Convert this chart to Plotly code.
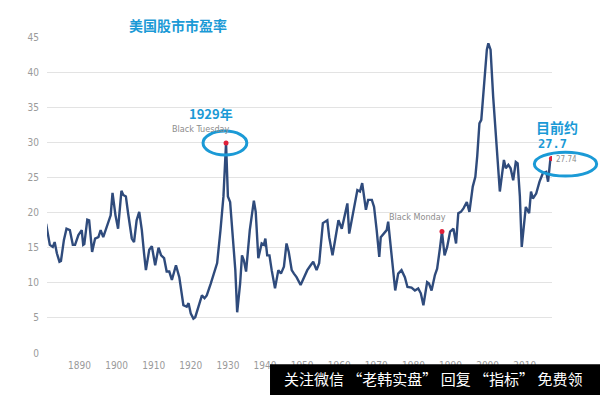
import plotly.graph_objects as go

# ---- data ----
years = [1881.0, 1881.3, 1882.0, 1882.8, 1883.3, 1883.9, 1884.6, 1885.0, 1885.8, 1886.5,
         1887.4, 1888.2, 1888.8, 1889.7, 1890.6, 1891.0, 1891.3, 1892.1, 1892.6, 1893.4,
         1894.2, 1895.1, 1895.7, 1896.4, 1897.1, 1897.8, 1898.4, 1898.9, 1899.7, 1900.4,
         1901.3, 1901.8, 1902.5, 1903.1, 1904.1, 1904.7, 1905.4, 1906.1, 1906.8, 1907.4,
         1907.9, 1908.8, 1909.5, 1910.4, 1911.3, 1912.0, 1912.8, 1913.5, 1914.2, 1914.9,
         1916.0, 1916.9, 1918.0, 1918.9, 1919.4, 1920.0, 1920.7, 1921.2, 1922.1, 1923.0,
         1923.7, 1924.3, 1925.4, 1926.3, 1927.1, 1928.0, 1928.8, 1929.5, 1930.0, 1930.6,
         1931.4, 1932.0, 1932.5, 1933.3, 1933.8, 1934.3, 1934.9, 1935.9, 1937.0, 1937.5,
         1938.2, 1939.1, 1939.7, 1940.1, 1940.6, 1941.2, 1941.8, 1942.7, 1943.6, 1944.3,
         1945.1, 1945.8, 1946.4, 1947.2, 1947.8, 1948.5, 1949.6, 1950.5, 1951.4, 1952.3,
         1953.0, 1953.9, 1954.6, 1955.6, 1956.3, 1956.8, 1957.3, 1958.2, 1958.9, 1959.8,
         1960.7, 1961.3, 1962.2, 1962.7, 1963.8, 1964.9, 1965.6, 1966.2, 1967.2, 1967.8,
         1968.8, 1969.4, 1970.1, 1970.8, 1971.2, 1972.1, 1972.8, 1973.2, 1973.7, 1974.4,
         1975.1, 1975.9, 1976.8, 1977.7, 1978.4, 1979.5, 1980.4, 1981.3, 1982.0, 1982.7,
         1983.7, 1984.2, 1984.9, 1985.8, 1986.4, 1987.2, 1987.7, 1988.4, 1989.1, 1989.9,
         1990.8, 1991.5, 1992.1, 1992.8, 1993.5, 1994.4, 1995.1, 1996.0, 1996.7, 1997.2,
         1997.8, 1998.3, 1999.0, 1999.8, 2000.2, 2000.8, 2001.5, 2002.3, 2002.9, 2003.3,
         2004.4, 2004.9, 2005.6, 2006.2, 2006.9, 2007.6, 2008.1, 2008.7, 2009.2, 2009.8,
         2010.3, 2011.2, 2011.7, 2012.2, 2013.1, 2014.0, 2014.9, 2015.8, 2016.3, 2016.9,
         2017.2]
pe = [18.4, 17.5, 15.4, 15.1, 15.8, 14.2, 13.0, 13.1, 16.1, 17.7,
      17.5, 15.4, 15.4, 16.8, 17.5, 15.4, 15.5, 19.0, 18.9, 14.4,
      16.3, 16.5, 17.5, 16.5, 17.5, 18.7, 19.6, 22.8, 19.6, 17.7,
      23.1, 22.5, 22.3, 19.9, 16.3, 15.8, 18.9, 20.1, 17.5, 14.2,
      11.8, 14.7, 15.2, 12.5, 15.0, 13.9, 13.5, 11.6, 11.6, 10.4,
      12.5, 10.8, 6.8, 6.6, 7.1, 5.6, 4.9, 5.1, 6.6, 8.2,
      7.8, 8.2, 9.9, 11.3, 12.8, 17.5, 22.3, 29.9, 22.3, 21.5,
      15.6, 11.8, 5.8, 9.9, 13.9, 13.2, 11.6, 17.5, 21.7, 20.1,
      13.5, 15.6, 15.4, 16.3, 13.9, 13.9, 11.8, 9.2, 11.8, 11.3,
      12.3, 15.6, 14.4, 11.8, 11.3, 10.8, 9.7, 10.8, 11.8, 12.5,
      13.0, 11.8, 12.8, 18.5, 18.7, 18.9, 16.5, 13.9, 16.1, 18.9,
      17.7, 19.2, 21.3, 17.0, 20.1, 23.2, 23.0, 24.2, 20.4, 21.8,
      21.8, 20.8, 17.5, 13.7, 16.5, 17.0, 17.5, 18.7, 16.1, 12.8,
      8.9, 11.3, 11.8, 10.8, 9.4, 9.3, 8.9, 9.2, 8.5, 6.8,
      10.1, 9.9, 8.9, 11.1, 12.0, 15.1, 17.3, 13.9, 15.1, 17.3,
      17.7, 15.6, 19.9, 20.1, 20.6, 21.5, 20.1, 23.7, 25.1, 28.0,
      32.7, 33.2, 38.4, 43.2, 44.1, 43.2, 36.5, 30.3, 24.6, 23.0,
      27.5, 26.3, 26.8, 26.3, 24.6, 27.2, 27.0, 22.3, 15.1, 18.0,
      20.8, 19.9, 23.0, 22.0, 22.7, 24.4, 25.6, 25.8, 24.4, 27.5,
      27.7]

hl_years = [1929.5, 1987.7, 2017.2]
hl_values = [29.9, 17.3, 27.7]
hl_labels = ["Black Tuesday", "Black Monday", "27.74"]

x_ticks = [1890, 1900, 1910, 1920, 1930, 1940, 1950, 1960, 1970, 1980, 1990, 2000, 2010]
y_ticks = [0, 5, 10, 15, 20, 25, 30, 35, 40, 45]

X_RANGE = [1881.24, 2017.36]
Y_RANGE = [0, 45]


def xp(year):
    return (year - X_RANGE[0]) / (X_RANGE[1] - X_RANGE[0])


BLUE = "#1b9ad6"
NARROW = "Liberation Sans Narrow, DejaVu Sans Condensed, Arial Narrow, sans-serif"
CJK = "Noto Sans CJK SC, sans-serif"
GRAY = "#8c8c8c"

fig = go.Figure()
fig.add_trace(go.Scatter(x=years, y=pe, mode="lines",
                         line=dict(color="#2f4b7c", width=2.4),
                         hoverinfo="skip", showlegend=False))
fig.add_trace(go.Scatter(x=hl_years, y=hl_values, mode="markers",
                         marker=dict(color="#e0203a", size=5),
                         hoverinfo="skip", showlegend=False))

shapes = [
    dict(type="circle", xref="paper", yref="y",
         x0=xp(hl_years[0] - 6.2), x1=xp(hl_years[0] + 5.6),
         y0=hl_values[0] - 1.7, y1=hl_values[0] + 1.7,
         line=dict(color=BLUE, width=3)),
    dict(type="circle", xref="paper", yref="y",
         x0=xp(hl_years[2] - 4.6), x1=xp(hl_years[2] + 12.2),
         y0=hl_values[2] - 2.5, y1=hl_values[2] + 0.9,
         line=dict(color=BLUE, width=3)),
    dict(type="rect", xref="paper", yref="paper", layer="above",
         x0=0.4416, x1=1.12, y0=-0.0358, y1=-0.16,
         fillcolor="#000000", line=dict(width=0)),
]


def ann(text, x, y, font, xref="paper", yref="y"):
    return dict(text=text, x=x, y=y, xref=xref, yref=yref, showarrow=False,
                xanchor="center", yanchor="middle", font=font)


annotations = [
    ann("<b>美国股市市盈率</b>", 0.259, 1.039, dict(family=CJK, size=14, color=BLUE), yref="paper"),
    ann("<b>1929年</b>", xp(hl_years[0] - 4.1), hl_values[0] + 4.15,
        dict(family=CJK, size=13, color=BLUE)),
    ann(hl_labels[0], xp(hl_years[0] - 7.0), hl_values[0] + 2.0,
        dict(family=NARROW, size=9, color=GRAY)),
    ann(hl_labels[1], xp(hl_years[1] - 6.7), hl_values[1] + 2.1,
        dict(family=NARROW, size=9, color=GRAY)),
    ann("<b>目前约</b>", xp(hl_years[2] + 1.5), hl_values[2] + 4.5,
        dict(family=CJK, size=14, color=BLUE)),
    ann("<b>27.7</b>", xp(hl_years[2] + 0.2), hl_values[2] + 2.1,
        dict(family="DejaVu Sans Mono, monospace", size=12, color=BLUE)),
    ann(hl_labels[2], xp(hl_years[2] + 4.2), hl_values[2] - 0.1,
        dict(family=NARROW, size=8, color=GRAY)),
    ann("关注微信 “老韩实盘” 回复 “指标” 免费领", 0.764, -0.080,
        dict(family=CJK, size=15, color="#ffffff"), yref="paper"),
]

fig.update_layout(
    width=600, height=395,
    margin=dict(l=47, r=48, t=37, b=42),
    paper_bgcolor="white", plot_bgcolor="white",
    shapes=shapes, annotations=annotations,
    xaxis=dict(range=X_RANGE, tickvals=x_ticks, ticktext=[str(t) for t in x_ticks],
               showgrid=False, zeroline=False, showline=False,
               ticks="outside", ticklen=3, tickcolor="rgba(0,0,0,0)",
               tickfont=dict(family=NARROW, size=10, color="#9a9a9a")),
    yaxis=dict(range=Y_RANGE, tickvals=y_ticks, ticktext=[str(t) for t in y_ticks],
               showgrid=True, gridcolor="#e3e3e3", gridwidth=1,
               zeroline=False, showline=False,
               ticks="outside", ticklen=5, tickcolor="rgba(0,0,0,0)",
               tickfont=dict(family=NARROW, size=10, color="#9a9a9a")),
)

fig.write_html("out.html", config={"displayModeBar": False},
               post_script="document.body.style.margin='0';")
